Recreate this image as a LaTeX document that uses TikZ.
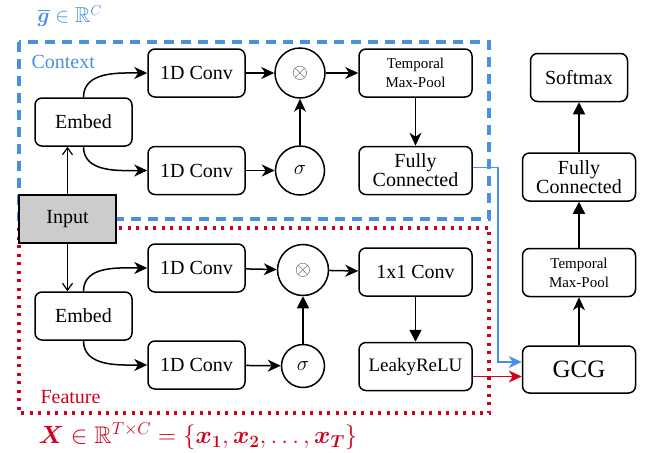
\documentclass[tikz,border=0pt]{standalone}
\usepackage{amsmath, amssymb}
\usepackage{fontspec}
\setmainfont{Liberation Serif}
\usepackage{xcolor}
\usepackage{tikz}
\usetikzlibrary{arrows.meta}

\definecolor{ctxblue}{HTML}{4A90E2}
\definecolor{ftred}{HTML}{D0021B}
\definecolor{inputgray}{HTML}{CCCCCC}

\begin{document}
\begin{tikzpicture}[x=1pt, y=-1pt,
    blk/.style={draw, rounded corners=7pt, line width=1.5pt, minimum width=97pt, minimum height=48pt,
      inner sep=0pt, align=center, font=\fontsize{20}{19}\selectfont},
    wideblk/.style={blk, minimum width=113pt},
    smalltxt/.style={font=\fontsize{15}{19}\selectfont},
    op/.style={draw, circle, line width=1.5pt, minimum size=50pt, inner sep=0pt, font=\fontsize{20}{20}\selectfont},
    flow/.style={line width=1.5pt, -{Stealth[length=13pt, width=12pt, inset=4pt]}},
    flowb/.style={line width=1.5pt, -{Triangle[length=12pt, width=12pt]}},
    feed/.style={line width=1.2pt, -{Straight Barb[length=7pt, width=10pt]}},
  ]
  \useasboundingbox (0,0) rectangle (649,453);

  % frames
  \draw[ctxblue, line width=3.2pt, dash pattern=on 10pt off 7pt] (19,42) rectangle (489,219);
  \draw[ftred, line width=3.2pt, dash pattern=on 3pt off 5.5pt] (19,228) rectangle (489,413);
  \node[ctxblue, anchor=west, font=\fontsize{20}{20}\selectfont] (ctxlabel) at (28,62) {Context};
  \node[ftred, anchor=west, font=\fontsize{20}{20}\selectfont] (ftlabel) at (37,397) {Feature};
  \node[ctxblue, anchor=west, font=\fontsize{21.5}{22}\selectfont] (gvec) at (34,16) {$\overline{\boldsymbol{g}}\in\mathbb{R}^{C}$};
  \node[ftred, anchor=west, font=\fontsize{24}{24}\selectfont] (xvec) at (35,436)
    {$\boldsymbol{X}\in\mathbb{R}^{T\times C}=\{\boldsymbol{x_1},\boldsymbol{x_2},\dots,\boldsymbol{x_T}\}$};

  % context branch
  \node[blk] (ctxembed) at (83.5,122) {Embed};
  \node[blk] (ctxconvA) at (196.5,73) {1D Conv};
  \node[blk] (ctxconvB) at (196.5,170.5) {1D Conv};
  \node[op] (ctxmul) at (300,73) {\textcolor{black!70}{$\otimes$}};
  \node[op, minimum size=49pt] (ctxsig) at (300,170.5) {$\sigma$};
  \node[wideblk, smalltxt] (ctxpool) at (415.5,73) {Temporal\\Max-Pool};
  \node[wideblk] (ctxfc) at (415.5,170.5) {Fully\\Connected};

  % feature branch
  \node[blk] (ftembed) at (83.5,316) {Embed};
  \node[blk] (ftconvA) at (196.5,268) {1D Conv};
  \node[blk] (ftconvB) at (196.5,365) {1D Conv};
  \node[op, minimum size=51pt] (ftmul) at (303,270) {\textcolor{black!70}{$\otimes$}};
  \node[op, minimum size=43pt] (ftsig) at (303,366) {$\sigma$};
  \node[wideblk] (ftconv) at (415.5,272) {1x1 Conv};
  \node[wideblk, font=\fontsize{19}{19}\selectfont] (ftleaky) at (415.5,366.5) {LeakyReLU};

  \node[blk, fill=inputgray, rounded corners=0pt] (input) at (67.5,219) {Input};

  % head
  \node[wideblk, font=\fontsize{25}{25}\selectfont, minimum height=47pt] (gcg) at (579,369.5) {GCG};
  \node[wideblk, smalltxt] (hdpool) at (579,272.5) {Temporal\\Max-Pool};
  \node[wideblk] (hdfc) at (579,177) {Fully\\Connected};
  \node[blk] (softmax) at (579,77.5) {Softmax};

  % arrows
  \draw[feed] (input.north) -- (input.north |- ctxembed.south);
  \draw[feed] (input.south) -- (input.south |- ftembed.north);

  \draw[flow] (ctxembed.north) to[out=90, in=180] (ctxconvA.west);
  \draw[flow] (ctxembed.south) to[out=-90, in=180] (ctxconvB.west);
  \draw[flow] (ctxconvA) -- (ctxmul);
  \draw[flow] (ctxconvB) -- (ctxsig);
  \draw[flow] (ctxsig) -- (ctxmul);
  \draw[flow] (ctxmul) -- (ctxpool);
  \draw[flow] (ctxpool) -- (ctxfc);

  \draw[flow] (ftembed.north) to[out=90, in=180] (ftconvA.west);
  \draw[flow] (ftembed.south) to[out=-90, in=180] (ftconvB.west);
  \draw[flow] (ftconvA) -- (ftmul);
  \draw[flow] (ftconvB) -- (ftsig);
  \draw[flowb] (ftsig) -- (ftmul);
  \draw[flow] (ftmul) -- (ftconv);
  \draw[flowb] (ftconv) -- (ftleaky);

  \coordinate (gbend) at (498,362);
  \coordinate (lk) at ([yshift=-10pt]ftleaky.east);
  \draw[flow, ctxblue, line width=1.1pt] ([yshift=3pt]ctxfc.east) -| (gbend) -- (gcg.west |- gbend);
  \draw[flow, ftred] (lk) -- (lk -| gcg.west);

  \draw[flow] (gcg) -- (hdpool);
  \draw[flowb] (hdpool) -- (hdfc);
  \draw[flowb] (hdfc) -- (softmax);
\end{tikzpicture}
\end{document}
